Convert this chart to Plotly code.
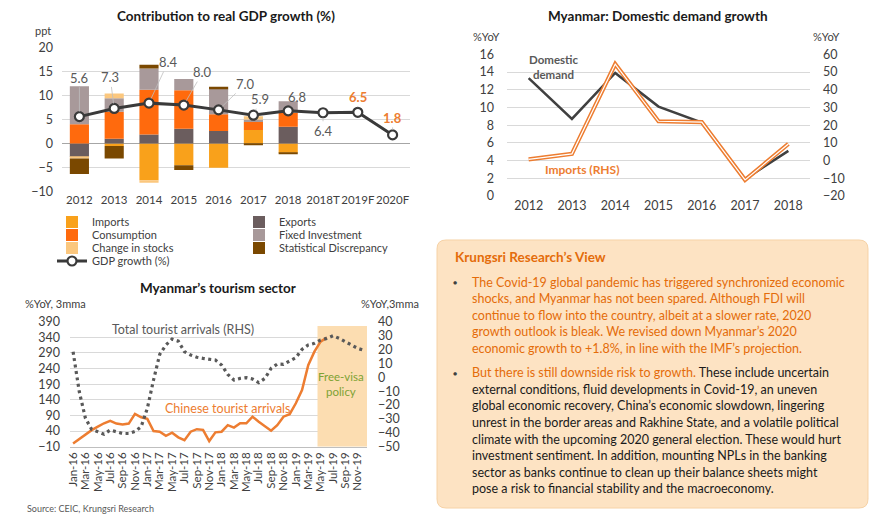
import plotly.graph_objects as go

W, H = 870, 521
def fx(x): return x / W
def fy(y): return 1 - y / H

FONT = "Lato"
DARK = "#404040"
GRID = "#D9D9D9"
ORANGE = "#ED7D31"

# ---------------- Chart 1: Contribution to real GDP growth ----------------
gdp_years = ["2012", "2013", "2014", "2015", "2016", "2017", "2018", "2018T", "2019F", "2020F"]
bar_years = ["2012", "2013", "2014", "2015", "2016", "2017", "2018"]
imports_c = [0.0, -0.5, -7.6, -4.5, -5.0, 2.8, -1.9]
exports_c = [-2.8, 1.0, 1.9, 3.1, 2.6, 0.0, 3.5]
consumption_c = [4.0, 5.6, 9.3, 8.0, 3.5, 1.7, 2.9]
fixed_inv_c = [7.9, 2.8, 4.4, 2.3, 5.3, 0.5, 2.4]
stocks_c = [-0.3, 1.0, -0.55, 0.0, 0.0, 0.7, 0.0]
stat_disc_c = [-3.2, -2.6, 0.8, -1.0, 0.4, -0.3, -0.2]
gdp_growth = [5.6, 7.3, 8.4, 8.0, 7.0, 5.9, 6.8, 6.4, 6.5, 1.8]
gdp_label_offsets = [(0, -39), (-4, -31), (19, -41), (19, -33), (27, -26), (7, -16), (9, -14), (0, 18), (0, -15), (0, -17)]

# ---------------- Chart 2: Domestic demand growth ----------------
dd_years = ["2012", "2013", "2014", "2015", "2016", "2017", "2018"]
domestic_demand = [13.3, 8.7, 13.9, 10.1, 8.3, 1.9, 5.1]
imports_growth = [0.7, 3.8, 54.5, 22.2, 21.7, -10.9, 9.4]

# ---------------- Chart 3: Tourism sector ----------------
month_names = ["Jan", "Feb", "Mar", "Apr", "May", "Jun", "Jul", "Aug", "Sep", "Oct", "Nov", "Dec"]
months = [f"{m}-{y}" for y in ["16", "17", "18", "19"] for m in month_names]
chinese_arrivals = [0, 15, 30, 43, 54, 65, 73, 64, 61, 64, 95, 84,
                    79, 40, 38, 25, 35, 20, 11, 38, 46, 44, 8, 36,
                    38, 59, 51, 65, 65, 86, 70, 54, 41, 59, 86, 94,
                    129, 171, 251, 294, 326, 339]
total_arrivals = [18.4, -10.4, -29.6, -37.5, -39.2, -41.0, -38.0, -39.0, -40.5, -40.5, -39.0, -35.6,
                  -22.4, -2.0, 16.5, 23.2, 27.5, 26.0, 18.4, 16.0, 14.4, 13.6, 12.9, 12.4,
                  8.8, 2.1, -2.0, -0.8, -0.3, -1.3, -3.9, -0.8, 6.4, 9.5, 9.3, 11.7,
                  14.1, 20.1, 23.2, 24.4, 26.8, 28.0, 29.9, 28.0, 25.6, 23.2, 20.8, 19.4]
visa_start, visa_end = "May-19", "Dec-19"

fig = go.Figure()

# (name, values, colour, legend id, legend pixel position (text-left x, row y))
bar_series = [
    ("Imports", imports_c, "#F9A11B", "legend", (92, 222)),
    ("Exports", exports_c, "#6B5D5E", "legend2", (279, 222)),
    ("Consumption", consumption_c, "#FF6A0D", "legend3", (92, 235)),
    ("Fixed Investment", fixed_inv_c, "#A8999A", "legend4", (279, 235)),
    ("Change in stocks", stocks_c, "#FBC77E", "legend5", (92, 248)),
    ("Statistical Discrepancy", stat_disc_c, "#7A4800", "legend6", (279, 248)),
]
legend_pos = {}
for name, vals, col, lg, pos in bar_series:
    legend_pos[lg] = pos
    fig.add_trace(go.Bar(x=bar_years, y=vals, name=name, marker=dict(color=col, line_width=0),
                         legend=lg, xaxis="x", yaxis="y", hoverinfo="skip"))
legend_pos["legend7"] = (92, 261)
fig.add_trace(go.Scatter(x=gdp_years, y=gdp_growth, mode="lines+markers", name="GDP growth (%)",
                         line=dict(color="#3A3A3A", width=3),
                         marker=dict(size=9, color="white", line=dict(color="#3A3A3A", width=2.2)),
                         legend="legend7", xaxis="x", yaxis="y"))

# chart 2
fig.add_trace(go.Scatter(x=dd_years, y=domestic_demand, mode="lines", line=dict(color="#404040", width=2.5),
                         showlegend=False, xaxis="x2", yaxis="y2"))
fig.add_trace(go.Scatter(x=dd_years, y=imports_growth, mode="lines", line=dict(color=ORANGE, width=4.2),
                         showlegend=False, xaxis="x2", yaxis="y3"))
fig.add_trace(go.Scatter(x=dd_years, y=imports_growth, mode="lines", line=dict(color="white", width=1.2),
                         showlegend=False, xaxis="x2", yaxis="y3"))

# chart 3
fig.add_trace(go.Scatter(x=months, y=chinese_arrivals, mode="lines", line=dict(color=ORANGE, width=2.5),
                         showlegend=False, xaxis="x3", yaxis="y4"))
fig.add_trace(go.Scatter(x=months, y=total_arrivals, mode="lines", line=dict(color="#595959", width=3.2, dash="3px,3.5px"),
                         showlegend=False, xaxis="x3", yaxis="y5"))

ann = []
def text(x, y, s, size=12, color=DARK, bold=False, xanchor="center", **kw):
    if bold:
        s = f"<b>{s}</b>"
    ann.append(dict(x=fx(x), y=fy(y), xref="paper", yref="paper", text=s, showarrow=False,
                    font=dict(size=size, color=color, family=FONT), xanchor=xanchor, yanchor="middle", **kw))

# GDP value labels with leader lines (category index as x)
for i, (yr, v) in enumerate(zip(gdp_years, gdp_growth)):
    ax, ay = gdp_label_offsets[i]
    forecast = yr.endswith("F")
    ann.append(dict(x=i, y=v, xref="x", yref="y", text=(f"<b>{v:.1f}</b>" if forecast else f"{v:.1f}"),
                    showarrow=True, arrowhead=0, arrowwidth=0.8, arrowcolor="#BFBFBF", ax=ax, ay=ay,
                    standoff=5, startstandoff=0,
                    font=dict(size=13, color=(ORANGE if forecast else "#595959"), family=FONT)))

# titles
text(226, 16, "Contribution to real GDP growth (%)", size=13.5, color="#1A1A1A", bold=True)
text(658, 16, "Myanmar: Domestic demand growth", size=13.5, color="#1A1A1A", bold=True)
text(218, 288, "Myanmar’s tourism sector", size=13.5, color="#1A1A1A", bold=True)
# unit labels
text(43, 30, "ppt", size=11)
text(486, 37, "%YoY", size=11)
text(826, 37, "%YoY", size=11)
text(55, 303, "%YoY, 3mma", size=11)
text(390, 303, "%YoY,3mma", size=11)
# series labels
text(554, 67, "Domestic<br>demand", size=11.5, color="#595959", bold=True)
text(582, 170, "Imports (RHS)", size=12, color=ORANGE, bold=True)
text(183, 329, "Total tourist arrivals (RHS)", size=12.5, color="#595959")
text(227, 408, "Chinese tourist arrivals", size=12.5, color=ORANGE)
text(341, 384, "Free-visa<br>policy", size=11.5, color="#7EA234")
text(25, 508, "Source: CEIC, Krungsri Research", size=9, color="#595959", xanchor="left")

# Text box
BOX_OR = "#E46C0A"
text(453, 257, "Krungsri Research’s View", size=13.5, color=BOX_OR, bold=True, xanchor="left")
b1 = ["The Covid-19 global pandemic has triggered synchronized economic",
      "shocks, and Myanmar has not been spared. Although FDI will",
      "continue to flow into the country, albeit at a slower rate, 2020",
      "growth outlook is bleak. We revised down Myanmar’s 2020",
      "economic growth to +1.8%, in line with the IMF’s projection."]
b2 = [f"<span style='color:{BOX_OR}'>But there is still downside risk to growth.</span> These include uncertain",
      "external conditions, fluid developments in Covid-19, an uneven",
      "global economic recovery, China’s economic slowdown, lingering",
      "unrest in the border areas and Rakhine State, and a volatile political",
      "climate with the upcoming 2020 general election. These would hurt",
      "investment sentiment. In addition, mounting NPLs in the banking",
      "sector as banks continue to clean up their balance sheets might",
      "pose a risk to financial stability and the macroeconomy."]
for k, line in enumerate(b1):
    text(470, 282.3 + 16.5 * k, line, size=12.5, color=BOX_OR, xanchor="left")
for k, line in enumerate(b2):
    text(470, 372.7 + 16.6 * k, line, size=12.5, color="#1A1A1A", xanchor="left")
text(455, 282.3, "●", size=7, color="#404040")
text(455, 372.7, "●", size=7, color="#404040")

def p(x, y):
    return f"{fx(x):.5f},{fy(y):.5f}"
x0, x1, y0, y1, r = 437, 868, 240, 508, 9
box_path = (f"M {p(x0 + r, y0)} L {p(x1 - r, y0)} Q {p(x1, y0)} {p(x1, y0 + r)} "
            f"L {p(x1, y1 - r)} Q {p(x1, y1)} {p(x1 - r, y1)} L {p(x0 + r, y1)} "
            f"Q {p(x0, y1)} {p(x0, y1 - r)} L {p(x0, y0 + r)} Q {p(x0, y0)} {p(x0 + r, y0)} Z")

shapes = [
    dict(type="path", xref="paper", yref="paper", path=box_path, fillcolor="#FDE3C3",
         line=dict(color="#F6D2A6", width=1), layer="below"),
    dict(type="rect", xref="x3", yref="y4", x0=months.index(visa_start) - 0.5, x1=months.index(visa_end) + 0.5,
         y0=-10, y1=376, fillcolor="#FCDDB1", line_width=0, layer="between"),
]

legends = {}
for lg, (tx, ty) in legend_pos.items():
    legends[lg] = dict(x=fx(tx - 40), y=fy(ty), xanchor="left", yanchor="middle",
                       font=dict(size=11, color=DARK, family=FONT), bgcolor="rgba(0,0,0,0)",
                       borderwidth=0, itemwidth=30, orientation="v")

tick_font = dict(size=12.5, color=DARK, family=FONT)
fig.update_layout(
    width=W, height=H, margin=dict(l=0, r=0, t=0, b=0, autoexpand=False),
    paper_bgcolor="white", plot_bgcolor="rgba(0,0,0,0)",
    font=dict(family=FONT, size=12, color=DARK),
    barmode="relative", bargap=0.45,
    annotations=ann, shapes=shapes,
    xaxis=dict(domain=[fx(62), fx(410)], anchor="y", type="category", categoryorder="array",
               categoryarray=gdp_years, range=[-0.5, 9.5], showgrid=False,
               tickfont=dict(size=11.5, color=DARK, family=FONT), tickangle=0, ticks="", showline=False),
    yaxis=dict(domain=[fy(191.7), fy(47.3)], anchor="x", range=[-10, 20], dtick=5, gridcolor=GRID,
               zeroline=True, zerolinecolor="#A6A6A6", zerolinewidth=1, tickfont=tick_font, ticklabelstandoff=8),
    xaxis2=dict(domain=[fx(507), fx(810)], anchor="y2", type="category", range=[-0.5, 6.5], showgrid=False,
                tickfont=tick_font, tickangle=0, ticks="", showline=False),
    yaxis2=dict(domain=[fy(196), fy(54.3)], anchor="x2", range=[0, 16], dtick=2, gridcolor=GRID,
                zeroline=False, tickfont=tick_font, ticklabelstandoff=12),
    yaxis3=dict(overlaying="y2", anchor="x2", side="right", range=[-20, 60], dtick=10, showgrid=False,
                zeroline=False, tickfont=tick_font, ticklabelstandoff=12),
    xaxis3=dict(domain=[fx(70), fx(367)], anchor="y4", type="category", categoryorder="array",
                categoryarray=months, range=[-0.5, 47.5], tickvals=months[::2], tickangle=-90, showgrid=False,
                tickfont=dict(size=11.5, color=DARK, family=FONT), ticks="", showline=True,
                linecolor="#BFBFBF", linewidth=1),
    yaxis4=dict(domain=[fy(446.7), fy(321.7)], anchor="x3", range=[-10, 390], tick0=-10, dtick=50,
                gridcolor=GRID, zeroline=False, tickfont=tick_font, ticklabelstandoff=9),
    yaxis5=dict(overlaying="y4", anchor="x3", side="right", range=[-50, 40], dtick=10, showgrid=False,
                zeroline=False, tickfont=tick_font, ticklabelstandoff=10),
    **legends,
)

fig.write_html("out.html", config={"displayModeBar": False},
               post_script="document.body.style.margin='0';document.body.style.overflow='hidden';")
